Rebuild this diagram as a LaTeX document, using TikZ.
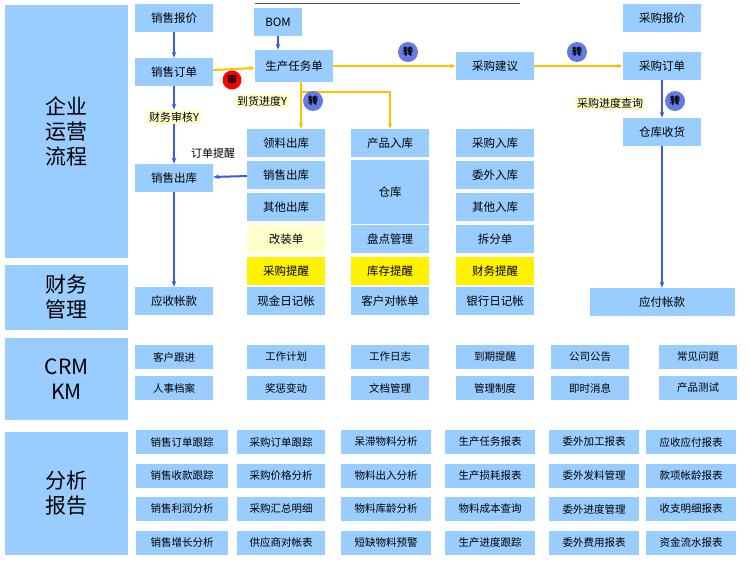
\documentclass[tikz,border=0pt]{standalone}
\usepackage{fontspec}
\setmainfont{Noto Sans CJK SC}
\usetikzlibrary{positioning,calc,arrows.meta}
\definecolor{boxblue}{RGB}{153,204,255}
\definecolor{paleyel}{RGB}{255,255,204}
\definecolor{flowyel}{RGB}{255,192,0}
\definecolor{arrblue}{RGB}{60,90,220}
\tikzset{
  box/.style={fill=boxblue, minimum height=28pt, inner sep=1pt, font=\fontsize{11.5}{12}\selectfont},
  sbox/.style={box, minimum width=78pt},
  side/.style={fill=boxblue, minimum width=123pt, font=\fontsize{21}{25}\selectfont, align=center},
  tag/.style={fill=paleyel, inner sep=2pt, font=\fontsize{11}{12}\selectfont},
  rep/.style={box, minimum height=24pt, font=\fontsize{10.5}{11}\selectfont},
  zhuan/.style={circle, fill=arrblue!80!white, inner sep=0pt, minimum size=20pt, font=\fontsize{10}{10}\selectfont\bfseries},
  bflow/.style={-{Stealth[length=6pt]}, arrblue, line width=2pt},
  yflow/.style={-{Stealth[length=6pt]}, flowyel, line width=2pt},
}
\begin{document}
\begin{tikzpicture}[x=1pt,y=-1pt]
  \useasboundingbox[fill=white] (0,0) rectangle (750,570);
  \draw[gray!70!black, line width=1pt] (255,3) -- (520,3);
  % side panels
  \node[side, minimum height=253pt] (ops) at (66.5,131.5) {企业\\运营\\流程};
  \node[side, minimum height=65pt] (fin) at (66.5,297.5) {财务\\管理};
  \node[side, minimum height=82pt] (crm) at (66.5,379) {CRM\\KM};
  \node[side, minimum height=123pt] (ana) at (66.5,493.5) {分析\\报告};
  % column 1
  \node[sbox] (xsbj) at (174,18) {销售报价};
  \node[sbox] (xsdd) at (174,72) {销售订单};
  \node[sbox] (xsck) at (174,178) {销售出库};
  \node[sbox] (ysz) at (174,301) {应收帐款};
  % column 2
  \node[box, minimum width=48pt] (bom) at (278,22) {BOM};
  \node[sbox, minimum height=32pt] (scrw) at (294,66) {生产任务单};
  \node[sbox] (llck) at (286,143) {领料出库};
  \node[sbox] (xsck2) at (286,175) {销售出库};
  \node[sbox] (qtck) at (286,207) {其他出库};
  \node[sbox, fill=paleyel] (gzd) at (286,239) {改装单};
  \node[sbox, fill=yellow] (cgtx) at (286,271) {采购提醒};
  \node[sbox] (xjrj) at (286,301) {现金日记帐};
  % column 3
  \node[sbox] (cprk) at (390,143) {产品入库};
  \node[sbox, minimum height=64pt] (ck) at (390,192) {仓库};
  \node[sbox] (pdgl) at (390,239) {盘点管理};
  \node[sbox, fill=yellow] (kctx) at (390,271) {库存提醒};
  \node[sbox] (khdz) at (390,301) {客户对帐单};
  % column 4
  \node[sbox] (cgjy) at (495,66) {采购建议};
  \node[sbox] (cgrk) at (495,143) {采购入库};
  \node[sbox] (wwrk) at (495,175) {委外入库};
  \node[sbox] (qtrk) at (495,207) {其他入库};
  \node[sbox] (cfd) at (495,239) {拆分单};
  \node[sbox, fill=yellow] (cwtx) at (495,271) {财务提醒};
  \node[sbox] (yhrj) at (495,301) {银行日记帐};
  % column 5
  \node[sbox] (cgbj) at (662,18) {采购报价};
  \node[sbox] (cgdd) at (662,66) {采购订单};
  \node[sbox] (ckhs) at (662,132) {仓库收货};
  \node[box, minimum width=145pt] (yfz) at (662,302) {应付帐款};
  % tags
  \node[tag] (cwsh) at (174,117) {财务审核Y};
  \node[tag] (dhjd) at (262,101) {到货进度Y};
  \node[tag] (cgjd) at (610,103) {采购进度查询};
  \node[font=\fontsize{11}{12}\selectfont] (ddtx) at (213,153) {订单提醒};
  % flows
  \draw[bflow] (xsbj) -- (xsdd);
  \draw[bflow] (bom) -- (bom |- scrw.north);
  \draw[bflow] (xsdd) -- (cwsh);
  \draw[bflow] (cwsh) -- (xsck);
  \draw[bflow] (xsck) -- (ysz);
  \draw[bflow] (xsck2) -- (xsck);
  \draw[bflow] (cgdd) -- (ckhs);
  \draw[bflow] (ckhs) -- (yfz);
  \draw[yflow] (xsdd) -- (scrw);
  \draw[yflow] (scrw) -- (cgjy);
  \draw[yflow] (cgjy) -- (cgdd);
  \draw[yflow] (scrw.south -| llck) ++(15,0) coordinate (dn) -- (dn |- llck.north);
  \draw[yflow] ($(dn)+(0,10)$) -| (cprk.north);
  \node[circle, fill=red, inner sep=0pt, minimum size=19pt, font=\fontsize{10}{10}\selectfont\bfseries] (shen) at (232,80) {审};
  \node[zhuan] (z1) at (408,52) {转};
  \node[zhuan] (z2) at (577,52) {转};
  \node[zhuan] (z3) at (313,101) {转};
  \node[zhuan] (z4) at (675,101) {转};
  % CRM KM
  \foreach \t [count=\i] in {客户跟进,工作计划,工作日志,到期提醒,公司公告,常见问题}
    \node[rep, minimum width=78pt] (crma\i) at ({\i==1?174:(\i==2?286:(\i==3?390:(\i==4?495:(\i==5?590:698))))},357) {\t};
  \foreach \t [count=\i] in {人事档案,奖惩变动,文档管理,管理制度,即时消息,产品测试}
    \node[rep, minimum width=78pt] (crmb\i) at ({\i==1?174:(\i==2?286:(\i==3?390:(\i==4?495:(\i==5?590:698))))},388) {\t};
  % reports
  \foreach \a/\b/\c/\d/\e/\f [count=\r] in {
      销售订单跟踪/采购订单跟踪/呆滞物料分析/生产任务报表/委外加工报表/应收应付报表,
      销售收款跟踪/采购价格分析/物料出入分析/生产损耗报表/委外发料管理/款项帐龄报表,
      销售利润分析/采购汇总明细/物料库龄分析/物料成本查询/委外进度管理/收支明细报表,
      销售增长分析/供应商对帐表/短缺物料预警/生产进度跟踪/委外费用报表/资金流水报表}{
    \node[rep, minimum width=92pt] (ra\r) at (182,{442+33.5*(\r-1)}) {\a};
    \node[rep, minimum width=88pt] (rb\r) at (281,{442+33.5*(\r-1)}) {\b};
    \node[rep, minimum width=90pt] (rc\r) at (386,{442+33.5*(\r-1)}) {\c};
    \node[rep, minimum width=90pt] (rd\r) at (490,{442+33.5*(\r-1)}) {\d};
    \node[rep, minimum width=90pt] (re\r) at (594,{442+33.5*(\r-1)}) {\e};
    \node[rep, minimum width=90pt] (rf\r) at (691,{442+33.5*(\r-1)}) {\f};
  }
\end{tikzpicture}
\end{document}
